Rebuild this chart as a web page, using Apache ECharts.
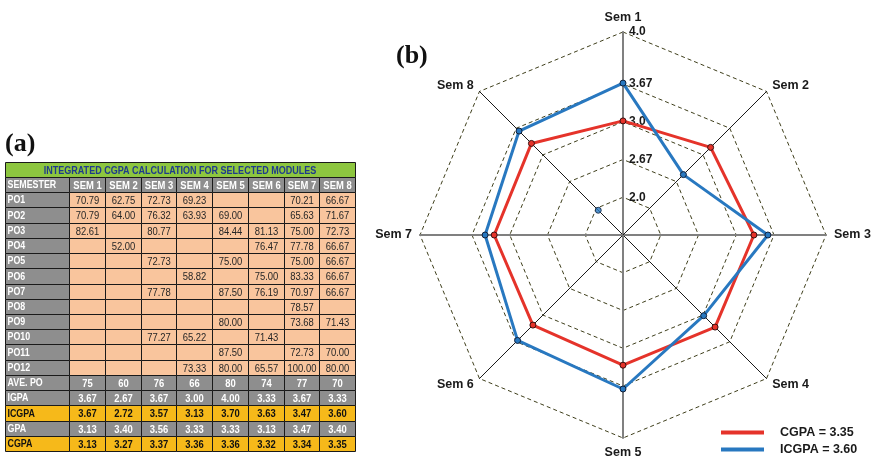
<!DOCTYPE html>
<html>
<head>
<meta charset="utf-8">
<script src="https://cdn.jsdelivr.net/npm/echarts@6/dist/echarts.min.js"></script>
<style>
  html, body { margin: 0; padding: 0; background: #ffffff; }
  #chart { width: 877px; height: 458px; }
</style>
</head>
<body>
<div id="chart"></div>
<script>
// ---- values ----
const semesters = ['Sem 1', 'Sem 2', 'Sem 3', 'Sem 4', 'Sem 5', 'Sem 6', 'Sem 7', 'Sem 8'];
const tableTitle = 'INTEGRATED CGPA CALCULATION FOR SELECTED MODULES';
const headerCells = ['SEMESTER', 'SEM 1', 'SEM 2', 'SEM 3', 'SEM 4', 'SEM 5', 'SEM 6', 'SEM 7', 'SEM 8'];
const poLabels = ['PO1', 'PO2', 'PO3', 'PO4', 'PO5', 'PO6', 'PO7', 'PO8', 'PO9', 'PO10', 'PO11', 'PO12'];

const po1  = [70.79, 62.75, 72.73, 69.23, null,  null,  70.21, 66.67];
const po2  = [70.79, 64.00, 76.32, 63.93, 69.00, null,  65.63, 71.67];
const po3  = [82.61, null,  80.77, null,  84.44, 81.13, 75.00, 72.73];
const po4  = [null,  52.00, null,  null,  null,  76.47, 77.78, 66.67];
const po5  = [null,  null,  72.73, null,  75.00, null,  75.00, 66.67];
const po6  = [null,  null,  null,  58.82, null,  75.00, 83.33, 66.67];
const po7  = [null,  null,  77.78, null,  87.50, 76.19, 70.97, 66.67];
const po8  = [null,  null,  null,  null,  null,  null,  78.57, null];
const po9  = [null,  null,  null,  null,  80.00, null,  73.68, 71.43];
const po10 = [null,  null,  77.27, 65.22, null,  71.43, null,  null];
const po11 = [null,  null,  null,  null,  87.50, null,  72.73, 70.00];
const po12 = [null,  null,  null,  73.33, 80.00, 65.57, 100.00, 80.00];

const avePo = [75, 60, 76, 66, 80, 74, 77, 70];
const igpa  = [3.67, 2.67, 3.67, 3.00, 4.00, 3.33, 3.67, 3.33];
const icgpa = [3.67, 2.72, 3.57, 3.13, 3.70, 3.63, 3.47, 3.60];
const gpa   = [3.13, 3.40, 3.56, 3.33, 3.33, 3.13, 3.47, 3.40];
const cgpa  = [3.13, 3.27, 3.37, 3.36, 3.36, 3.32, 3.34, 3.35];

const radarTickLabels = ['2.0', '2.67', '3.0', '3.67', '4.0'];
// single loose ICGPA marker on the Sem 8 spoke: [value, semester]
const looseIcgpaPoint = [2.0, 'Sem 8'];

// ---- table (a) built from the arrays above ----
const poRows = [po1, po2, po3, po4, po5, po6, po7, po8, po9, po10, po11, po12];
const COL = { green: '#8dc63f', gray: '#8e8e8e', peach: '#f9c59d', gold: '#f6b91a', titleText: '#1f3b8c', border: '#1a1a1a' };
const SANS = "'Liberation Sans', Arial, sans-serif";
const NARROW_SCALE = 0.82;   // horizontally condensed cell text
const T = { x0: 5, labelW: 64, colW: 35.75, titleTop: 162, top: 177, rowH: 15.22 };
const f2 = v => (v == null ? '' : v.toFixed(2));

const tableRows = [];
tableRows.push({ label: headerCells[0], cells: headerCells.slice(1), kind: 'header' });
poRows.forEach((r, i) => tableRows.push({ label: poLabels[i], cells: r.map(f2), kind: 'po' }));
tableRows.push({ label: 'AVE. PO', cells: avePo.map(String), kind: 'gray' });
tableRows.push({ label: 'IGPA', cells: igpa.map(f2), kind: 'gray' });
tableRows.push({ label: 'ICGPA', cells: icgpa.map(f2), kind: 'gold' });
tableRows.push({ label: 'GPA', cells: gpa.map(f2), kind: 'gray' });
tableRows.push({ label: 'CGPA', cells: cgpa.map(f2), kind: 'gold' });

const kindStyle = {
  header: { labelFill: COL.gray, cellFill: COL.gray, labelText: '#ffffff', cellText: '#ffffff', cellBold: true },
  po:     { labelFill: COL.gray, cellFill: COL.peach, labelText: '#ffffff', cellText: '#262626', cellBold: false },
  gray:   { labelFill: COL.gray, cellFill: COL.gray, labelText: '#ffffff', cellText: '#ffffff', cellBold: true },
  gold:   { labelFill: COL.gold, cellFill: COL.gold, labelText: '#111111', cellText: '#111111', cellBold: true }
};

const snap = v => Math.round(v) + 0.5;
const colEdges = [T.x0, T.x0 + T.labelW];
for (let i = 1; i <= 8; i++) colEdges.push(T.x0 + T.labelW + i * T.colW);
const tableRight = colEdges[colEdges.length - 1];

function narrowText(x, y, text, fill, font, align) {
  return {
    type: 'text', x: x, y: y, scaleX: NARROW_SCALE, scaleY: 1,
    style: { text: text, fill: fill, font: font, align: align, verticalAlign: 'middle' }
  };
}

const tableGraphics = [];
// title bar
tableGraphics.push({
  type: 'rect',
  shape: { x: snap(T.x0), y: snap(T.titleTop), width: Math.round(tableRight - T.x0), height: Math.round(T.top - T.titleTop) },
  style: { fill: COL.green, stroke: COL.border, lineWidth: 1 }
});
tableGraphics.push(narrowText((T.x0 + tableRight) / 2, (T.titleTop + T.top) / 2 + 1, tableTitle, COL.titleText, 'bold 11px ' + SANS, 'center'));

tableRows.forEach((row, j) => {
  const st = kindStyle[row.kind];
  const y0 = snap(T.top + j * T.rowH);
  const y1 = snap(T.top + (j + 1) * T.rowH);
  const yc = (y0 + y1) / 2 + 0.5;
  for (let c = 0; c < 9; c++) {
    const x0 = snap(colEdges[c]);
    const x1 = snap(colEdges[c + 1]);
    tableGraphics.push({
      type: 'rect',
      shape: { x: x0, y: y0, width: x1 - x0, height: y1 - y0 },
      style: { fill: c === 0 ? st.labelFill : st.cellFill, stroke: COL.border, lineWidth: 1 }
    });
    if (c === 0) {
      tableGraphics.push(narrowText(x0 + 2, yc, row.label, st.labelText, 'bold 10.8px ' + SANS, 'left'));
    } else if (row.cells[c - 1] !== '') {
      tableGraphics.push(narrowText((x0 + x1) / 2, yc, row.cells[c - 1], st.cellText,
        (st.cellBold ? 'bold ' : '') + '11.5px ' + SANS, 'center'));
    }
  }
});

// panel letters
const panelFont = "bold 26px 'Liberation Serif', 'DejaVu Serif', serif";
tableGraphics.push({ type: 'text', x: 5, y: 144, style: { text: '(a)', fill: '#111', font: panelFont, align: 'left', verticalAlign: 'middle' } });
tableGraphics.push({ type: 'text', x: 396, y: 56, style: { text: '(b)', fill: '#111', font: panelFont, align: 'left', verticalAlign: 'middle' } });

// ---- radar (b) ----
const CENTER = [623, 235];
const OUTER_R = 203;     // outer ring (4.0)
const INNER_R = 151;     // evenly spaced inner rings
const rMin = 1.5, rMax = 4.4;
const innerMax = rMin + (rMax - rMin) * INNER_R / OUTER_R;
// ECharts lays indicators out counter-clockwise; list them so Sem 1..8 run clockwise
const order = [0, 7, 6, 5, 4, 3, 2, 1];

const RED = '#e5332a', BLUE = '#2878c0';
const cgpaName = 'CGPA = ' + cgpa[7].toFixed(2);
const icgpaName = 'ICGPA = ' + icgpa[7].toFixed(2);

const tickLabelStyle = {
  show: true, margin: -6, align: 'left', verticalAlign: 'middle', padding: [0, 0, 6, 0],
  color: '#1a1a1a', fontWeight: 'bold', fontSize: 12, fontFamily: 'Liberation Sans'
};

const outerIndicators = order.map(k => {
  const ind = {
    name: semesters[k], min: rMin, max: rMax,
    axisLine: { lineStyle: k % 2 === 0 ? { color: '#808080', width: 2 } : { color: '#1a1a1a', width: 1 } }
  };
  if (k === 0) {
    ind.axisLabel = Object.assign({}, tickLabelStyle, {
      showMinLabel: false, showMaxLabel: true,
      formatter: (v, i) => (i === 1 ? radarTickLabels[4] : '')
    });
  }
  return ind;
});

const innerIndicators = order.map(k => {
  const ind = { name: semesters[k], min: rMin, max: innerMax };
  if (k === 0) {
    ind.axisLabel = Object.assign({}, tickLabelStyle, {
      showMinLabel: false, showMaxLabel: true,
      formatter: (v, i) => (i >= 1 ? radarTickLabels[i - 1] : '')
    });
  }
  return ind;
});

const ringLine = { lineStyle: { color: '#3f3f1c', type: [4, 3], width: 1 } };

const option = {
  animation: false,
  backgroundColor: '#ffffff',
  graphic: { elements: tableGraphics },
  legend: {
    orient: 'vertical', left: 716, top: 421, height: 40, itemWidth: 43, itemHeight: 4, itemGap: 4,
    icon: 'rect', selectedMode: false,
    itemStyle: { borderWidth: 0 },
    data: [cgpaName, icgpaName],
    textStyle: { fontWeight: 'bold', fontSize: 12.5, fontFamily: 'Liberation Sans', color: '#1a1a1a', padding: [0, 0, 0, 11] }
  },
  radar: [
    {
      center: CENTER, radius: OUTER_R, startAngle: 90, shape: 'polygon', splitNumber: 1,
      indicator: outerIndicators,
      axisName: { color: '#1a1a1a', fontWeight: 'bold', fontSize: 12.5, fontFamily: 'Liberation Sans' },
      nameGap: 8,
      axisLine: { show: true, lineStyle: { color: '#1a1a1a', width: 1 } },
      splitLine: ringLine,
      splitArea: { show: false }
    },
    {
      center: CENTER, radius: INNER_R, startAngle: 90, shape: 'polygon', splitNumber: 4,
      indicator: innerIndicators,
      axisName: { show: false },
      axisLine: { show: false },
      splitLine: ringLine,
      splitArea: { show: false }
    }
  ],
  polar: { center: CENTER, radius: OUTER_R },
  angleAxis: { type: 'category', data: semesters, boundaryGap: false, startAngle: 90, clockwise: true, show: false },
  radiusAxis: { type: 'value', min: rMin, max: rMax, show: false },
  series: [
    {
      type: 'radar', radarIndex: 0, name: cgpaName, z: 3,
      symbol: 'circle', symbolSize: 6,
      lineStyle: { color: RED, width: 3 },
      itemStyle: { color: RED, borderColor: '#3a1010', borderWidth: 1 },
      data: [{ name: cgpaName, value: order.map(k => cgpa[k]) }]
    },
    {
      type: 'radar', radarIndex: 0, name: icgpaName, z: 4,
      symbol: 'circle', symbolSize: 6,
      lineStyle: { color: BLUE, width: 3 },
      itemStyle: { color: BLUE, borderColor: '#10203a', borderWidth: 1 },
      data: [{ name: icgpaName, value: order.map(k => icgpa[k]) }]
    },
    {
      type: 'scatter', coordinateSystem: 'polar', z: 4,
      symbol: 'circle', symbolSize: 6,
      itemStyle: { color: BLUE, borderColor: '#10203a', borderWidth: 1 },
      data: [looseIcgpaPoint]
    }
  ]
};

const chart = echarts.init(document.getElementById('chart'), null, { renderer: 'canvas' });
chart.setOption(option);
</script>
</body>
</html>
